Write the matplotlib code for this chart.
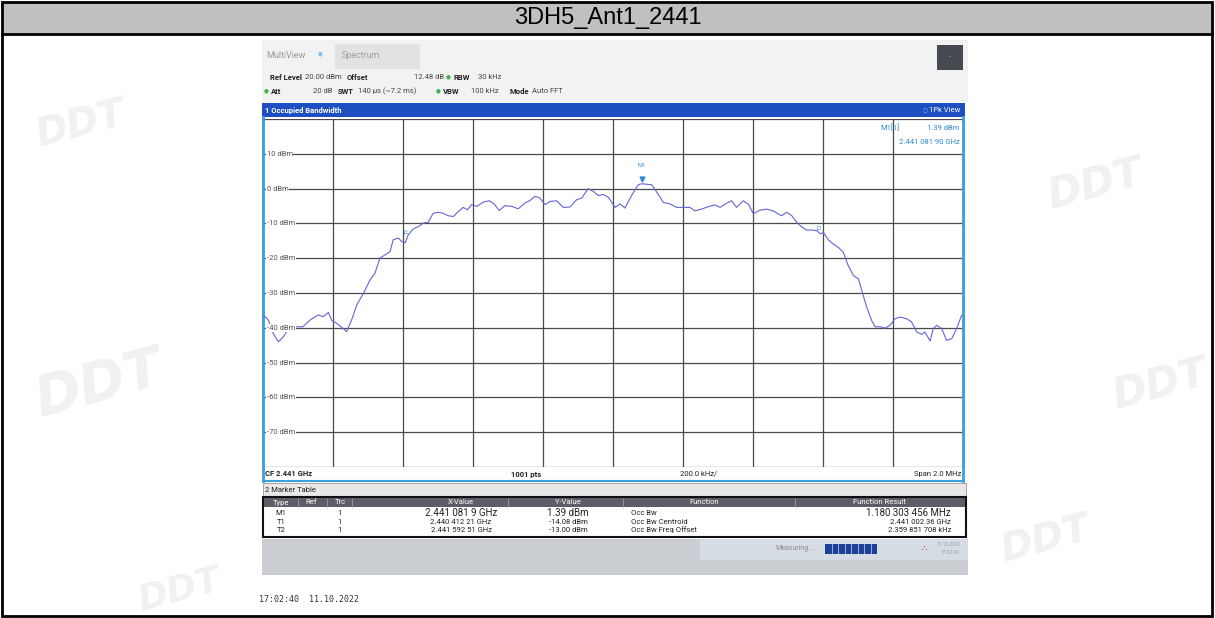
import matplotlib.pyplot as plt
from matplotlib.patches import Rectangle

W, H = 1215, 618

# trace (MHz, dBm)
freq_mhz = [2440.001, 2440.015, 2440.029, 2440.044, 2440.058, 2440.077, 2440.096, 2440.114,
            2440.134, 2440.158, 2440.172, 2440.187, 2440.196, 2440.211, 2440.239, 2440.253,
            2440.268, 2440.287, 2440.306, 2440.320, 2440.334, 2440.349, 2440.363, 2440.372,
            2440.387, 2440.396, 2440.406, 2440.415, 2440.429, 2440.444, 2440.458, 2440.472,
            2440.486, 2440.501, 2440.515, 2440.529, 2440.544, 2440.558, 2440.572, 2440.584,
            2440.596, 2440.611, 2440.629, 2440.647, 2440.660, 2440.675, 2440.691, 2440.711,
            2440.729, 2440.749, 2440.763, 2440.777, 2440.791, 2440.806, 2440.820, 2440.839,
            2440.858, 2440.877, 2440.896, 2440.911, 2440.929, 2440.944, 2440.958, 2440.972,
            2440.987, 2441.006, 2441.020, 2441.034, 2441.053, 2441.072, 2441.082, 2441.111,
            2441.129, 2441.144, 2441.163, 2441.182, 2441.201, 2441.220, 2441.234, 2441.253,
            2441.272, 2441.291, 2441.306, 2441.325, 2441.339, 2441.353, 2441.372, 2441.387,
            2441.401, 2441.420, 2441.439, 2441.458, 2441.472, 2441.482, 2441.496, 2441.511,
            2441.525, 2441.539, 2441.553, 2441.568, 2441.582, 2441.593, 2441.601, 2441.615,
            2441.629, 2441.644, 2441.658, 2441.672, 2441.687, 2441.701, 2441.711, 2441.725,
            2441.739, 2441.749, 2441.763, 2441.777, 2441.791, 2441.806, 2441.820, 2441.839,
            2441.853, 2441.868, 2441.882, 2441.891, 2441.906, 2441.915, 2441.925, 2441.939,
            2441.953, 2441.968, 2441.982, 2441.996]
level_dbm = [-36.3, -37.7, -41.6, -44.0, -42.6, -39.7, -39.7, -39.7,
             -37.8, -36.3, -36.8, -35.6, -37.8, -38.7, -41.1, -37.8,
             -33.4, -30.1, -26.2, -24.3, -20.0, -19.0, -18.1, -14.7,
             -14.2, -15.2, -15.6, -13.3, -11.6, -10.9, -9.9, -9.7,
             -7.1, -6.8, -7.1, -7.8, -8.0, -6.6, -5.4, -6.1,
             -4.6, -5.1, -3.9, -3.5, -4.4, -6.3, -4.9, -5.1,
             -5.8, -4.1, -3.4, -2.2, -2.7, -4.6, -3.7, -3.5,
             -5.4, -5.3, -3.2, -2.7, 0.0, -0.8, -2.0, -1.7,
             -2.5, -5.4, -4.4, -5.6, -2.0, 1.1, 1.39, 1.1,
             -1.6, -4.0, -4.4, -5.4, -5.4, -5.4, -6.4, -5.9,
             -5.2, -4.7, -5.4, -4.2, -3.5, -5.4, -3.5, -4.5,
             -7.2, -6.2, -5.9, -6.4, -7.3, -7.8, -6.8, -7.8,
             -9.7, -11.0, -11.9, -11.9, -12.1, -13.0, -12.6, -14.7,
             -15.9, -16.9, -18.3, -22.1, -25.0, -25.9, -29.3, -34.1,
             -37.9, -39.7, -39.7, -40.1, -39.3, -37.4, -36.9, -37.4,
             -38.3, -41.2, -41.9, -41.2, -43.8, -40.2, -39.3, -40.2,
             -43.6, -43.1, -40.2, -36.4]

ref_level = 20
y_grid = [20, 10, 0, -10, -20, -30, -40, -50, -60, -70, -80]
y_labels = ["10 dBm", "0 dBm", "-10 dBm", "-20 dBm", "-30 dBm", "-40 dBm", "-50 dBm", "-60 dBm", "-70 dBm"]

markers = [("M1", 2441.0819, 1.39), ("T1", 2440.41221, -14.08), ("T2", 2441.59251, -13.00)]

table_head = ["Type", "Ref", "Trc", "X-Value", "Y-Value", "Function", "Function Result"]
table_rows = [
    ["M1", "", "1", "2.441 081 9 GHz", "1.39 dBm", "Occ Bw", "1.180 303 456 MHz"],
    ["T1", "", "1", "2.440 412 21 GHz", "-14.08 dBm", "Occ Bw Centroid", "2.441 002 36 GHz"],
    ["T2", "", "1", "2.441 592 51 GHz", "-13.00 dBm", "Occ Bw Freq Offset", "2.359 851 708 kHz"],
]

FONT = ["Liberation Sans Narrow", "Roboto", "DejaVu Sans"]
plt.rcParams['font.family'] = FONT

fig = plt.figure(figsize=(W / 100, H / 100), dpi=100)
bg = fig.add_axes([0, 0, 1, 1])
bg.set_xlim(0, W)
bg.set_ylim(H, 0)
bg.axis('off')


def box(x0, y0, x1, y1, **kw):
    bg.add_patch(Rectangle((x0, y0), x1 - x0, y1 - y0, **kw))


def txt(x, y, s, size=5.5, color='#222222', **kw):
    kw.setdefault('va', 'center')
    bg.text(x, y, s, fontsize=size, color=color, **kw)


# outer frame + title bar
box(2, 2, W - 3, 34, facecolor='#c0c0c0', edgecolor='none')
box(2, 2, W - 3, H - 2, facecolor='none', edgecolor='black', lw=2)
bg.plot([2, W - 3], [34, 34], color='black', lw=2)
bg.text(W / 2, 18, "3DH5_Ant1_2441", fontsize=17, ha='center', va='center',
        family=['Liberation Sans', 'DejaVu Sans'])

# faint watermarks
for (wx, wy, s) in [(80, 125, 28), (100, 385, 40), (1095, 185, 30),
                    (1160, 385, 30), (1045, 540, 28), (180, 590, 26)]:
    bg.text(wx, wy, "DDT", fontsize=s, color='#f1f1f1', fontweight='bold', style='italic',
            ha='center', va='center', rotation=15, family=['DejaVu Sans'], zorder=0)

# screenshot top area
box(262, 40, 968, 102, facecolor='#f2f2f2', edgecolor='none')
box(335, 44, 420, 69, facecolor='#e2e2e2', edgecolor='none')
txt(266, 56, "MultiView", 6.5, '#9a9a9a')
txt(318, 54, "\u25cf", 4, '#7fc3ef')
txt(342, 56, "Spectrum", 6.5, '#a0a0a0')
box(937, 45, 963, 70, facecolor='#454a50', edgecolor='none')
txt(950, 57, "\u00b7", 6, 'white', ha='center')

green = '#3cb44b'
txt(270, 77, "Ref Level", 5.5, fontweight='bold')
txt(305, 77, "20.00 dBm", 5.5, '#444444')
txt(347, 77, "Offset", 5.5, fontweight='bold')
txt(414, 77, "12.48 dB", 5.5, '#444444')
txt(446, 77, "\u25cf", 4, green)
txt(453, 77, "RBW", 5.5, fontweight='bold')
txt(478, 77, "30 kHz", 5.5, '#444444')
txt(264, 91, "\u25cf", 4, green)
txt(271, 91, "Att", 5.5, fontweight='bold')
txt(313, 91, "20 dB", 5.5, '#444444')
txt(338, 91, "SWT", 5.5, fontweight='bold')
txt(358, 91, "140 \u00b5s (~7.2 ms)", 5.5, '#444444')
txt(436, 91, "\u25cf", 4, green)
txt(443, 91, "VBW", 5.5, fontweight='bold')
txt(471, 91, "100 kHz", 5.5, '#444444')
txt(509, 91, "Mode", 5.5, fontweight='bold')
txt(532, 91, "Auto FFT", 5.5, '#444444')

# blue window title
box(262, 103, 965, 117, facecolor='#1d4fc2', edgecolor='none')
txt(265, 110, "1 Occupied Bandwidth", 5.5, 'white', fontweight='bold')
txt(960, 110, "1Pk View", 5.5, 'white', ha='right')
txt(927, 110, "\u25cb", 4, '#9ab8ff', ha='right')

# trace area
top, bot = 119, 467
ax = fig.add_axes([263 / W, 1 - bot / H, 700 / W, (bot - top) / H])
ax.set_xlim(2440.0, 2442.0)
ax.set_ylim(-80, ref_level)
ax.set_xticks([2440.0 + 0.2 * i for i in range(11)])
ax.set_yticks(y_grid)
ax.grid(True, color='#4a4a4a', lw=0.9)
ax.tick_params(length=0, labelbottom=False, labelleft=False)
for side in ['top', 'bottom']:
    ax.spines[side].set_visible(False)
for side in ['left', 'right']:
    ax.spines[side].set_color('#3ca0e0')
    ax.spines[side].set_linewidth(2)
ax.plot(freq_mhz, level_dbm, color='#6464d8', lw=0.8, zorder=3)

for lab, val in zip(y_labels, y_grid[1:-1]):
    ax.text(2440.01, val, lab, fontsize=5.5, color='#555555', va='center', ha='left',
            bbox=dict(facecolor='white', edgecolor='none', pad=0.6), zorder=4)

mcol = '#2e8ad6'
for name, f, v in markers:
    if name == "M1":
        ax.plot([f], [v + 1.3], marker='v', color=mcol, ms=3.5, zorder=5)
        ax.text(f, v + 4.5, name, fontsize=4, color=mcol, ha='center', va='bottom')
    else:
        ax.text(f, v + 1, name, fontsize=4, color=mcol, ha='center', va='bottom', rotation=90)

ax.text(2441.79, 17.5, "M1[1]", fontsize=5.5, color=mcol, ha='center', va='center')
ax.text(2441.99, 17.5, "1.39 dBm", fontsize=5.5, color=mcol, ha='right', va='center')
ax.text(2441.99, 13.5, "2.441 081 90 GHz", fontsize=5.5, color=mcol, ha='right', va='center')

# footer of window 1
bg.plot([263, 263], [117, 481], color='#3ca0e0', lw=2)
bg.plot([963, 963], [117, 481], color='#3ca0e0', lw=2)
bg.plot([263, 963], [481, 481], color='#3ca0e0', lw=1.5)
txt(265, 474, "CF 2.441 GHz", 5.5, fontweight='bold')
txt(526, 474, "1001 pts", 5.5, fontweight='bold', ha='center')
txt(699, 474, "200.0 kHz/", 5.5, ha='center')
txt(961, 474, "Span 2.0 MHz", 5.5, ha='right')

# marker table
box(263, 483, 966, 497, facecolor='#e8e8e8', edgecolor='#999999', lw=0.6)
txt(265, 490, "2 Marker Table", 5.5)
box(263, 497, 966, 537, facecolor='white', edgecolor='#111111', lw=1.5)
box(264, 498, 965, 507, facecolor='#5d5d68', edgecolor='none')
col_x = [281, 311, 340, 461, 568, 704, 879]
for sx in [298, 327, 352, 508, 623, 795]:
    bg.plot([sx, sx], [498, 507], color='#9a9aa5', lw=0.6)
for cx, h in zip(col_x, table_head):
    txt(cx, 502.5, h, 5.5, 'white', ha='center')
row_y = [513, 522, 530]
for r, (ry, row) in enumerate(zip(row_y, table_rows)):
    big = 7 if r == 0 else 5.5
    txt(281, ry, row[0], 5.5, ha='center')
    txt(340, ry, row[2], 5.5, ha='center')
    txt(461, ry, row[3], big, ha='center')
    txt(568, ry, row[4], big, ha='center')
    txt(631, ry, row[5], 5.5, ha='left')
    txt(951, ry, row[6], big, ha='right')

# status bar
box(262, 539, 968, 575, facecolor='#cacdd1', edgecolor='none')
box(700, 539, 968, 560, facecolor='#d6dce4', edgecolor='none')
txt(775, 549, "Measuring...", 5, '#8a8f98')
box(825, 544, 877, 554, facecolor='#1c3f9a', edgecolor='none')
for k in range(1, 8):
    bg.plot([825 + k * 6.5, 825 + k * 6.5], [544, 554], color='#d6dce4', lw=0.5)
txt(924, 549, "\u2234", 6, '#d02020', ha='center')
txt(937, 545, "11.10.2022", 3.5, '#9aa0aa')
txt(941, 553, "17:02:39", 3.5, '#9aa0aa')

txt(259, 600, "17:02:40  11.10.2022", 6, '#333333', family=['DejaVu Sans Mono'])

fig.savefig('out.png', dpi=100)
